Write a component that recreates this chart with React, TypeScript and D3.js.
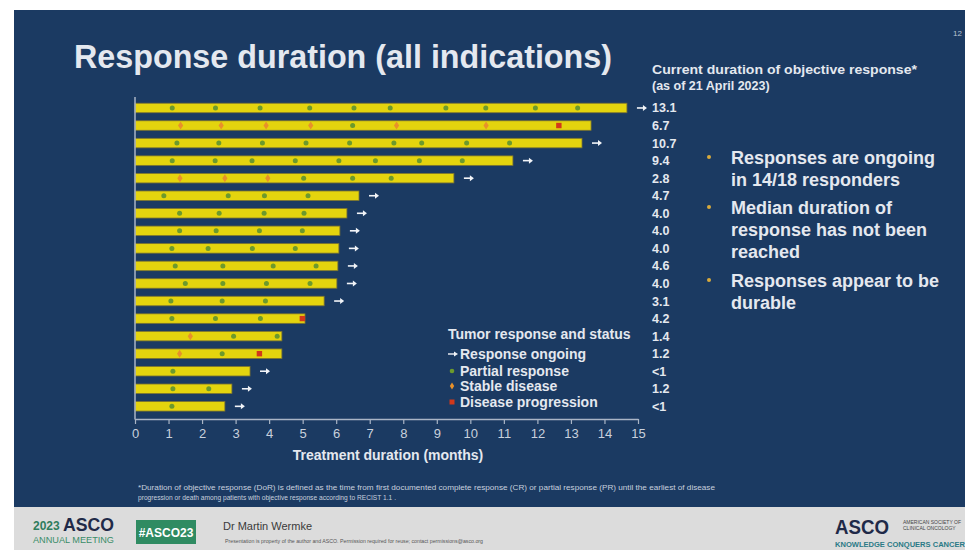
import React, { useEffect, useRef } from "react";
import * as d3 from "d3";

// Treatment duration per patient (months), top to bottom
const patients = d3.range(1, 19).map((i) => `P${i}`);
const treatmentMonths = [14.67, 13.6, 13.33, 11.27, 9.51, 6.68, 6.32, 6.11, 6.08, 6.05, 6.02, 5.64, 5.07, 4.38, 4.38, 3.43, 2.89, 2.68];
const responseOngoing = [true, false, true, true, true, true, true, true, true, true, true, true, false, false, false, true, true, true];
const responseDurationLabels = ["13.1", "6.7", "10.7", "9.4", "2.8", "4.7", "4.0", "4.0", "4.0", "4.6", "4.0", "3.1", "4.2", "1.4", "1.2", "<1", "1.2", "<1"];

// Tumour assessments (months) by patient
const partialResponse = [
  [1.11, 2.4, 3.73, 5.21, 6.53, 7.61, 9.27, 10.46, 11.94, 13.2],
  [6.49],
  [1.25, 2.5, 3.8, 5.1, 6.4, 7.72, 8.55, 9.89, 11.17],
  [1.11, 2.39, 3.49, 4.78, 6.08, 7.17, 8.48, 9.76],
  [5.03, 6.49, 7.64],
  [0.86, 2.78, 3.86, 5.16],
  [1.33, 2.51, 3.85, 5.04],
  [1.33, 2.42, 3.71, 4.99],
  [1.1, 2.18, 3.5, 4.78],
  [1.2, 2.62, 4.12, 5.4],
  [1.5, 2.62, 3.92, 5.22],
  [1.07, 2.6, 3.89],
  [1.1, 2.4, 3.74],
  [2.94, 4.24],
  [2.6],
  [1.13],
  [1.13, 2.2],
  [1.1],
];
const stableDisease = [
  [], [1.36, 2.57, 3.91, 5.24, 7.8, 10.47], [], [], [1.34, 2.68, 3.96], [], [], [], [], [], [], [], [], [1.65], [1.33], [], [], [],
];
const diseaseProgression = [
  [], [12.64], [], [], [], [], [], [], [], [], [], [], [4.99], [], [3.71], [], [], [],
];

const xTicks = d3.range(0, 16);

const bulletLines = [
  ["Responses are ongoing", "in 14/18 responders"],
  ["Median duration of", "response has not been", "reached"],
  ["Responses appear to be", "durable"],
];

const NAVY = "#1b3a62";
const LIGHT = "#e4e8ef";
const TICK = "#c9d1dd";
const YELLOW = "#e4d40e";
const GREEN = "#6c9a2c";
const ORANGE = "#e8912a";
const RED = "#d2381a";
const FONT = "'Liberation Sans', Arial, sans-serif";

export default function App() {
  const axisRef = useRef<SVGGElement>(null);

  const x = d3.scaleLinear().domain([0, 15]).range([135, 638]);
  const y = d3.scaleBand().domain(patients).range([99.2, 415.1]).padding(0);
  const cy = (i: number) => (y(patients[i]) as number) + y.bandwidth() / 2;
  const barH = 9.5;

  useEffect(() => {
    if (!axisRef.current) return;
    const g = d3.select(axisRef.current);
    g.selectAll("*").remove();
    g.call(
      d3
        .axisBottom(x)
        .tickValues(xTicks)
        .tickSize(5)
        .tickSizeOuter(0)
        .tickPadding(5)
        .tickFormat(d3.format("d"))
    );
    g.select(".domain").attr("stroke", "#aab5c6").attr("stroke-width", 1.5);
    g.selectAll(".tick line").attr("stroke", "#aab5c6").attr("stroke-width", 1.2);
    g.selectAll(".tick text")
      .attr("fill", TICK)
      .attr("font-size", 13)
      .attr("font-family", FONT);
  }, []);

  const diamond = "M0,-4L2.6,0L0,4L-2.6,0Z";

  return (
    <svg
      width={965}
      height={550}
      style={{ position: "absolute", left: 0, top: 0, background: "#ffffff" }}
      fontFamily={FONT}
    >
      {/* slide body */}
      <rect x={14} y={10} width={951} height={497} fill={NAVY} />
      {/* footer band */}
      <rect x={14} y={507} width={951} height={43} fill="#dcdcdc" />

      <text x={953} y={36} fontSize={8} fill="#b8c2d2">12</text>

      {/* title */}
      <text x={74} y={68} fontSize={34} fontWeight="bold" fill={LIGHT} textLength={538} lengthAdjust="spacingAndGlyphs">
        Response duration (all indications)
      </text>

      {/* right column header */}
      <text x={652} y={74} fontSize={12.5} fontWeight="bold" fill={LIGHT} textLength={265} lengthAdjust="spacingAndGlyphs">
        Current duration of objective response*
      </text>
      <text x={652} y={90} fontSize={12.5} fontWeight="bold" fill={LIGHT}>
        (as of 21 April 2023)
      </text>

      {/* bars */}
      {treatmentMonths.map((m, i) => (
        <rect
          key={`bar${i}`}
          x={x(0)}
          y={cy(i) - barH / 2}
          width={x(m) - x(0)}
          height={barH}
          fill={YELLOW}
          stroke="#7d7430"
          strokeWidth={0.8}
        />
      ))}

      {/* assessments */}
      {partialResponse.map((arr, i) =>
        arr.map((m, j) => <circle key={`pr${i}-${j}`} cx={x(m)} cy={cy(i)} r={2.5} fill={GREEN} />)
      )}
      {stableDisease.map((arr, i) =>
        arr.map((m, j) => (
          <path key={`sd${i}-${j}`} d={diamond} transform={`translate(${x(m)},${cy(i)})`} fill={ORANGE} />
        ))
      )}
      {diseaseProgression.map((arr, i) =>
        arr.map((m, j) => (
          <rect key={`pd${i}-${j}`} x={x(m) - 2.7} y={cy(i) - 2.7} width={5.4} height={5.4} fill={RED} />
        ))
      )}

      {/* ongoing arrows */}
      {treatmentMonths.map((m, i) =>
        responseOngoing[i] ? (
          <g key={`ar${i}`} transform={`translate(${x(m) + 10},${cy(i)})`}>
            <line x1={0} y1={0} x2={7} y2={0} stroke="#f2f4f8" strokeWidth={1.6} />
            <path d="M6,-3L10,0L6,3Z" fill="#f2f4f8" />
          </g>
        ) : null
      )}

      {/* left axis line */}
      <line x1={x(0)} x2={x(0)} y1={97} y2={419.5} stroke="#aab5c6" strokeWidth={1.5} />

      {/* x axis */}
      <g ref={axisRef} transform="translate(0,419)" />
      <text x={388} y={460} textAnchor="middle" fontSize={14} fontWeight="bold" fill={LIGHT}>
        Treatment duration (months)
      </text>

      {/* response duration labels */}
      {responseDurationLabels.map((t, i) => (
        <text key={`lab${i}`} x={652} y={cy(i) + 4.5} fontSize={12.5} fontWeight="bold" fill={LIGHT}>
          {t}
        </text>
      ))}

      {/* legend */}
      <g fontWeight="bold" fontSize={14} fill={LIGHT}>
        <text x={448} y={339}>Tumor response and status</text>
        <line x1={448} x2={455} y1={354} y2={354} stroke="#f2f4f8" strokeWidth={1.4} />
        <path d="M454,351.5L458,354L454,356.5Z" fill="#f2f4f8" />
        <text x={460} y={359}>Response ongoing</text>
        <circle cx={452} cy={371} r={2.3} fill={GREEN} />
        <text x={460} y={376}>Partial response</text>
        <path d={diamond} transform="translate(452,386) scale(0.85)" fill={ORANGE} />
        <text x={460} y={391}>Stable disease</text>
        <rect x={449.5} y={399.5} width={5} height={5} fill={RED} />
        <text x={460} y={407}>Disease progression</text>
      </g>

      {/* key messages */}
      {(() => {
        const starts = [157, 207, 280];
        const lh = 22.3;
        return bulletLines.map((lines, k) => (
          <g key={`bl${k}`}>
            <circle cx={709} cy={starts[k]} r={2} fill="#d9aa3c" />
            {lines.map((ln, j) => (
              <text key={j} x={731} y={starts[k] + j * lh + 6.5} fontSize={18} fontWeight="bold" fill={LIGHT}>
                {ln}
              </text>
            ))}
          </g>
        ));
      })()}

      {/* footnote */}
      <g fontSize={7} fill="#c8d0de">
        <text x={138} y={490} textLength={577} lengthAdjust="spacingAndGlyphs">
          *Duration of objective response (DoR) is defined as the time from first documented complete response (CR) or partial response (PR) until the earliest of disease
        </text>
        <text x={138} y={500} textLength={258} lengthAdjust="spacingAndGlyphs">
          progression or death among patients with objective response according to RECIST 1.1 .
        </text>
      </g>

      {/* footer */}
      <text x={33} y={530} fontSize={12} fontWeight="bold" fill="#2f7d5c">2023</text>
      <text x={63} y={531} fontSize={18} fontWeight="bold" fill="#1f2a48" textLength={51} lengthAdjust="spacingAndGlyphs">ASCO</text>
      <text x={33} y={543} fontSize={9} fill="#3a8c68" textLength={81} lengthAdjust="spacingAndGlyphs">ANNUAL MEETING</text>
      <rect x={136} y={520} width={60} height={24} fill="#2f8b62" />
      <text x={166} y={536.5} textAnchor="middle" fontSize={12} fontWeight="bold" fill="#ffffff">#ASCO23</text>
      <text x={223} y={530} fontSize={11} fill="#3a3a3a">Dr Martin Wermke</text>
      <text x={225} y={543} fontSize={5.5} fill="#555" textLength={258} lengthAdjust="spacingAndGlyphs">
        Presentation is property of the author and ASCO. Permission required for reuse; contact permissions@asco.org
      </text>
      <text x={835} y={533.5} fontSize={21} fontWeight="bold" fill="#1f2a48" textLength={54} lengthAdjust="spacingAndGlyphs">ASCO</text>
      <text x={903} y={524} fontSize={5} fill="#444">AMERICAN SOCIETY OF</text>
      <text x={903} y={530} fontSize={5} fill="#444">CLINICAL ONCOLOGY</text>
      <text x={835} y={546.5} fontSize={7} fontWeight="bold" fill="#2a7a86" textLength={130} lengthAdjust="spacingAndGlyphs">
        KNOWLEDGE CONQUERS CANCER
      </text>
    </svg>
  );
}
